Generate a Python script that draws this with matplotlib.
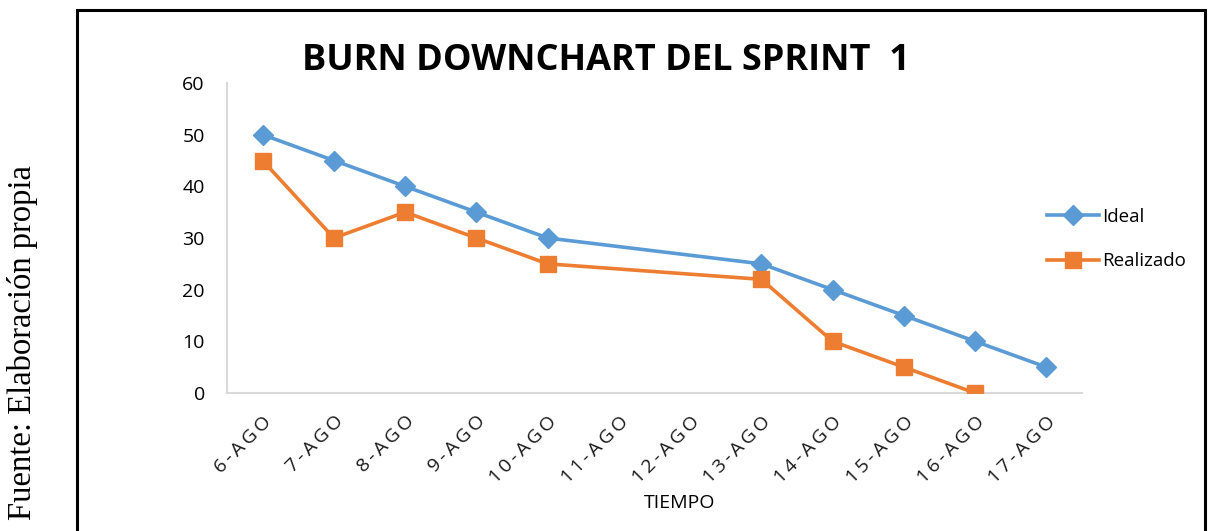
import numpy as np
import matplotlib
matplotlib.use("Agg")
import matplotlib.pyplot as plt
from matplotlib.patches import Rectangle

# chart data
dias = ["6-AGO", "7-AGO", "8-AGO", "9-AGO", "10-AGO", "11-AGO",
        "12-AGO", "13-AGO", "14-AGO", "15-AGO", "16-AGO", "17-AGO"]
ideal = [50, 45, 40, 35, 30, None, None, 25, 20, 15, 10, 5]
realizado = [45, 30, 35, 30, 25, None, None, 22, 10, 5, 0, None]
yticks = [0, 10, 20, 30, 40, 50, 60]

BLUE = "#5B9BD5"
ORANGE = "#ED7D31"
AXIS = "#D9D9D9"

def spaced(s):
  # excel draws the category labels with some letter spacing
  return "\u2009".join(s)

def present(vals):
  xs = [i for i, v in enumerate(vals) if v is not None]
  ys = [v for v in vals if v is not None]
  return xs, ys

fig = plt.figure(figsize=(12.11, 5.31), dpi=100)
W, H = 1211.0, 531.0

# outer frame of the figure
fig.patches.append(Rectangle((77 / W, -0.02), (1205 - 77) / W, (531 - 10) / H + 0.02,
                             transform=fig.transFigure, fill=False,
                             edgecolor="black", linewidth=2.2))

ax = fig.add_axes([227 / W, 1 - 393 / H, (1082 - 227) / W, (393 - 83) / H])

x, y = present(ideal)
ax.plot(x, y, color=BLUE, linewidth=2.6, marker="D", markersize=10,
        label="Ideal")
x, y = present(realizado)
ax.plot(x, y, color=ORANGE, linewidth=2.6, marker="s", markersize=11.5,
        label="Realizado")

ax.set_xlim(-0.5, len(dias) - 0.5)
ax.set_ylim(0, 60)
ax.set_yticks(yticks)
ax.set_xticks(range(len(dias)))
ax.set_xticklabels([spaced(d) for d in dias], rotation=45, ha="right",
                   rotation_mode="anchor", fontsize=14, family="Open Sans",
                   color="#1a1a1a")
for lab in ax.get_yticklabels():
  lab.set_fontsize(14)
  lab.set_family("Open Sans")
ax.tick_params(axis="both", length=0)
ax.tick_params(axis="y", pad=16)
ax.tick_params(axis="x", pad=14)

for side in ["top", "right"]:
  ax.spines[side].set_visible(False)
for side in ["left", "bottom"]:
  ax.spines[side].set_color(AXIS)
  ax.spines[side].set_linewidth(1.5)
ax.spines["bottom"].set_zorder(0)

fig.text(606 / W, 1 - 61 / H, "BURN DOWNCHART DEL SPRINT  1", ha="center",
         va="center", fontsize=26, fontweight="bold", family="Open Sans")
fig.text(680 / W, 1 - 503 / H, "TIEMPO", ha="center", va="center",
         fontsize=14, family="Open Sans")
fig.text(23 / W, 1 - 343 / H, "Fuente: Elaboración propia", rotation=90,
         ha="center", va="center", fontsize=23.5, family="Liberation Serif")

leg = fig.legend(loc="center left", bbox_to_anchor=(1030 / W, 1 - 239 / H),
                 frameon=False, prop={"family": "Open Sans", "size": 13.5},
                 handlelength=2.8, handletextpad=0.15, labelspacing=1.4)

fig.savefig("out.png", dpi=100)
